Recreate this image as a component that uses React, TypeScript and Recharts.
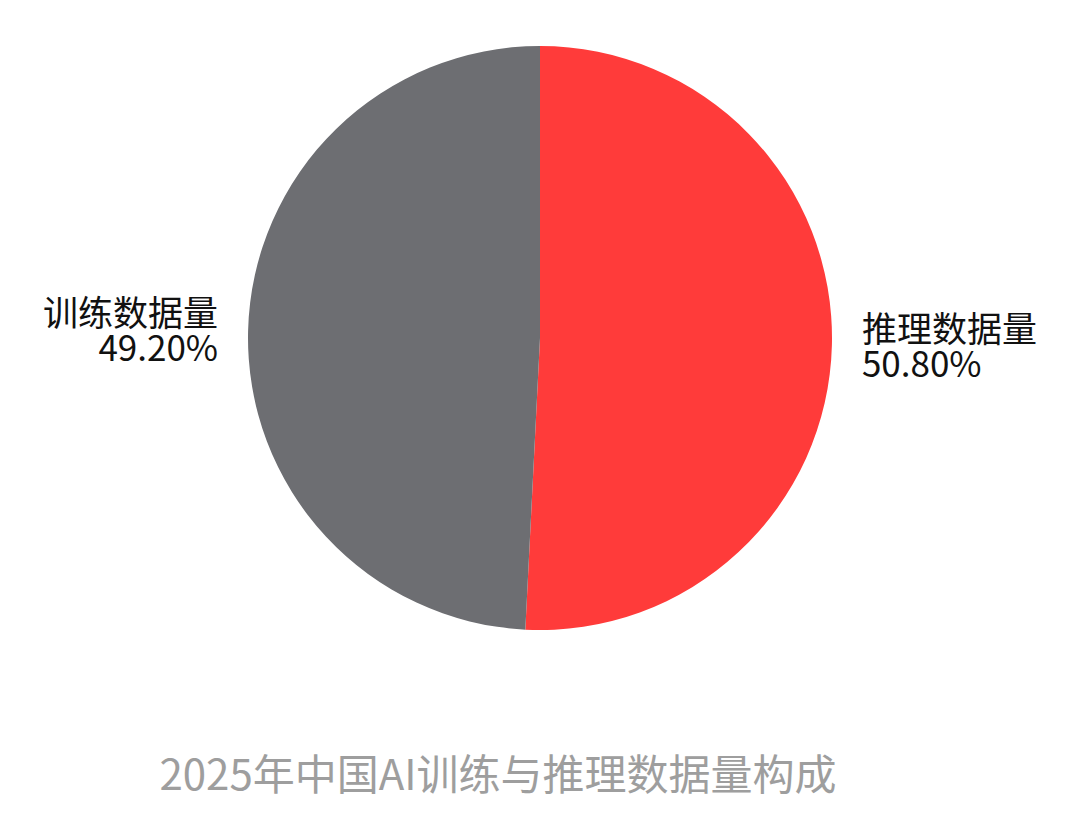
import React from "react";
import { PieChart, Pie, Cell } from "recharts";

const categories = ["推理数据量", "训练数据量"];
const values = [50.8, 49.2];
const valueLabels = ["50.80%", "49.20%"];
const colors = ["#FF3B3A", "#6D6E72"];
const title = "2025年中国AI训练与推理数据量构成";

const data = categories.map((name, i) => ({ name, value: values[i], label: valueLabels[i] }));

const FONT = '"Noto Sans CJK SC", "Noto Sans", sans-serif';
const RAD = Math.PI / 180;

const renderLabel = (props: any) => {
  const { cx, cy, midAngle, outerRadius, index } = props;
  const r = outerRadius + 30;
  const x = cx + r * Math.cos(-midAngle * RAD);
  const y = cy + r * Math.sin(-midAngle * RAD);
  const anchor = x > cx ? "start" : "end";
  const d = data[index];
  return (
    <text
      x={x}
      y={y}
      textAnchor={anchor}
      fill="#111111"
      fontSize={35}
      fontFamily={FONT}
    >
      <tspan x={x} dy={-4}>{d.name}</tspan>
      <tspan x={x} dy={35}>{d.label}</tspan>
    </text>
  );
};

export default function App() {
  return (
    <div
      style={{
        position: "absolute",
        left: 0,
        top: 0,
        width: 1080,
        height: 814,
        background: "#ffffff",
        overflow: "hidden",
      }}
    >
      <PieChart width={1080} height={814} margin={{ top: 0, right: 0, bottom: 0, left: 0 }}>
        <Pie
          data={data}
          dataKey="value"
          nameKey="name"
          cx={540}
          cy={338}
          outerRadius={292}
          startAngle={90}
          endAngle={-270}
          stroke="none"
          label={renderLabel}
          labelLine={false}
          isAnimationActive={false}
        >
          {data.map((d, i) => (
            <Cell key={d.name} fill={colors[i]} />
          ))}
        </Pie>
      </PieChart>
      <div
        style={{
          position: "absolute",
          left: 0,
          width: 996,
          top: 744,
          textAlign: "center",
          fontFamily: FONT,
          fontSize: 42,
          color: "#9E9E9E",
          lineHeight: "56px",
          whiteSpace: "nowrap",
        }}
      >
        {title}
      </div>
    </div>
  );
}
